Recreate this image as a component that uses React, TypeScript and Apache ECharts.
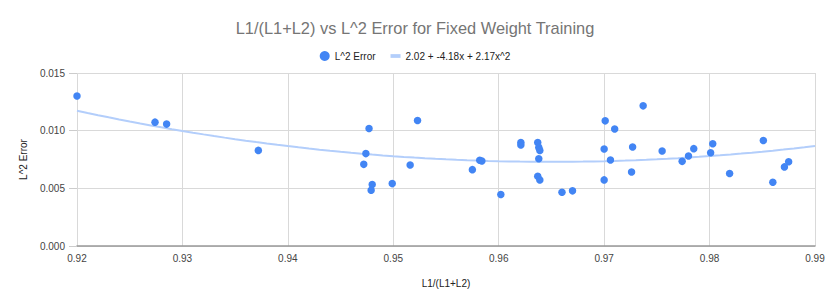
import React, { useEffect, useRef } from "react";
import * as echarts from "echarts";

const xValues: number[] = [
  0.92, 0.9274, 0.9285, 0.9372, 0.9477, 0.9523, 0.9474, 0.9472, 0.948, 0.9479,
  0.9499, 0.9516, 0.9582, 0.9584, 0.9575, 0.9602, 0.9621, 0.9621, 0.9637, 0.9638,
  0.9639, 0.9638, 0.9637, 0.9639, 0.966, 0.967, 0.9701, 0.971, 0.97, 0.9706,
  0.97, 0.9737, 0.9727, 0.9726, 0.9755, 0.9774, 0.978, 0.9785, 0.9803, 0.9801,
  0.9819, 0.9851, 0.986, 0.9871, 0.9875,
];
const yValues: number[] = [
  0.01301, 0.01074, 0.01057, 0.00829, 0.01019, 0.01088, 0.00801, 0.00708, 0.00533, 0.00484,
  0.00541, 0.00703, 0.00743, 0.00737, 0.00662, 0.00446, 0.00898, 0.00876, 0.00898, 0.00855,
  0.00829, 0.00757, 0.00604, 0.00573, 0.00466, 0.00478, 0.01085, 0.01014, 0.00841, 0.00746,
  0.00573, 0.01215, 0.00858, 0.00642, 0.00824, 0.00734, 0.00781, 0.00844, 0.00887, 0.00809,
  0.00628, 0.00915, 0.00553, 0.00686, 0.00731,
];
const xTicks: number[] = [0.92, 0.93, 0.94, 0.95, 0.96, 0.97, 0.98, 0.99];
const yTicks: number[] = [0, 0.005, 0.01, 0.015];
const seriesNames: string[] = ["L^2 Error", "2.02 + -4.18x + 2.17x^2"];
const titleText = "L1/(L1+L2) vs L^2 Error for Fixed Weight Training";
const xAxisName = "L1/(L1+L2)";
const yAxisName = "L^2 Error";

// least-squares quadratic fit of the data (what the trendline is)
function fitQuadratic(xs: number[], ys: number[]): [number, number, number] {
  const x0 = 0.955;
  const s = [0, 0, 0, 0, 0];
  const t = [0, 0, 0];
  for (let i = 0; i < xs.length; i++) {
    const u = xs[i] - x0;
    let p = 1;
    for (let k = 0; k < 5; k++) {
      s[k] += p;
      if (k < 3) t[k] += p * ys[i];
      p *= u;
    }
  }
  const M = [
    [s[0], s[1], s[2], t[0]],
    [s[1], s[2], s[3], t[1]],
    [s[2], s[3], s[4], t[2]],
  ];
  for (let c = 0; c < 3; c++) {
    for (let r = c + 1; r < 3; r++) {
      const f = M[r][c] / M[c][c];
      for (let k = c; k < 4; k++) M[r][k] -= f * M[c][k];
    }
  }
  const sol = [0, 0, 0];
  for (let r = 2; r >= 0; r--) {
    let v = M[r][3];
    for (let k = r + 1; k < 3; k++) v -= M[r][k] * sol[k];
    sol[r] = v / M[r][r];
  }
  return [sol[0], sol[1], sol[2]];
}

export default function App() {
  const ref = useRef<HTMLDivElement>(null);
  useEffect(() => {
    if (!ref.current) return;
    const chart = echarts.init(ref.current, null, { renderer: "svg" });
    const [a, b, c] = fitQuadratic(xValues, yValues);
    const xMin = xTicks[0];
    const xMax = xTicks[xTicks.length - 1];
    const trend: number[][] = [];
    const steps = 70;
    for (let i = 0; i <= steps; i++) {
      const x = xMin + ((xMax - xMin) * i) / steps;
      const u = x - 0.955;
      trend.push([x, a + b * u + c * u * u]);
    }
    const font = "Arial, 'Liberation Sans', sans-serif";
    chart.setOption({
      animation: false,
      backgroundColor: "#ffffff",
      title: {
        text: titleText,
        left: "center",
        top: 15,
        textStyle: { fontFamily: font, fontSize: 16.4, fontWeight: "normal", color: "#757575" },
      },
      legend: {
        top: 46,
        left: "center",
        itemWidth: 10,
        itemHeight: 10,
        itemGap: 15,
        textStyle: { fontFamily: font, fontSize: 10, color: "#222222" },
        data: [
          { name: seriesNames[0], icon: "circle" },
          { name: seriesNames[1], icon: "path://M0,0h8v3h-8z" },
        ],
      },
      grid: { left: 77, right: 15, top: 73, bottom: 59 },
      xAxis: {
        type: "value",
        min: xMin,
        max: xMax,
        interval: 0.01,
        name: xAxisName,
        nameLocation: "middle",
        nameGap: 32,
        nameTextStyle: { fontFamily: font, fontSize: 10, color: "#222222" },
        axisLine: { show: true, lineStyle: { color: "#999999", width: 1.5 } },
        axisTick: { show: false },
        axisLabel: {
          margin: 7,
          fontFamily: font,
          fontSize: 10,
          color: "#444444",
          formatter: (v: number) => v.toFixed(2),
        },
        splitLine: { show: true, lineStyle: { color: "#d9d9d9", width: 1 } },
      },
      yAxis: {
        type: "value",
        min: yTicks[0],
        max: yTicks[yTicks.length - 1],
        interval: 0.005,
        name: yAxisName,
        nameLocation: "middle",
        nameGap: 49,
        nameTextStyle: { fontFamily: font, fontSize: 10, color: "#222222" },
        axisLine: { show: false },
        axisTick: { show: true, length: 8, lineStyle: { color: "#cccccc" } },
        axisLabel: {
          margin: 12,
          fontFamily: font,
          fontSize: 10,
          color: "#444444",
          formatter: (v: number) => v.toFixed(3),
        },
        splitLine: { show: true, lineStyle: { color: "#d9d9d9", width: 1 } },
      },
      series: [
        {
          name: seriesNames[1],
          type: "line",
          data: trend,
          showSymbol: false,
          symbol: "none",
          smooth: false,
          lineStyle: { color: "#b3cefb", width: 2 },
          itemStyle: { color: "#b3cefb" },
          z: 1,
        },
        {
          name: seriesNames[0],
          type: "scatter",
          data: xValues.map((x, i) => [x, yValues[i]]),
          symbolSize: 7.5,
          itemStyle: { color: "#4285f4", opacity: 1 },
          z: 2,
        },
      ],
    });
    return () => chart.dispose();
  }, []);
  return <div ref={ref} style={{ width: 830, height: 305, position: "absolute", left: 0, top: 0 }} />;
}
